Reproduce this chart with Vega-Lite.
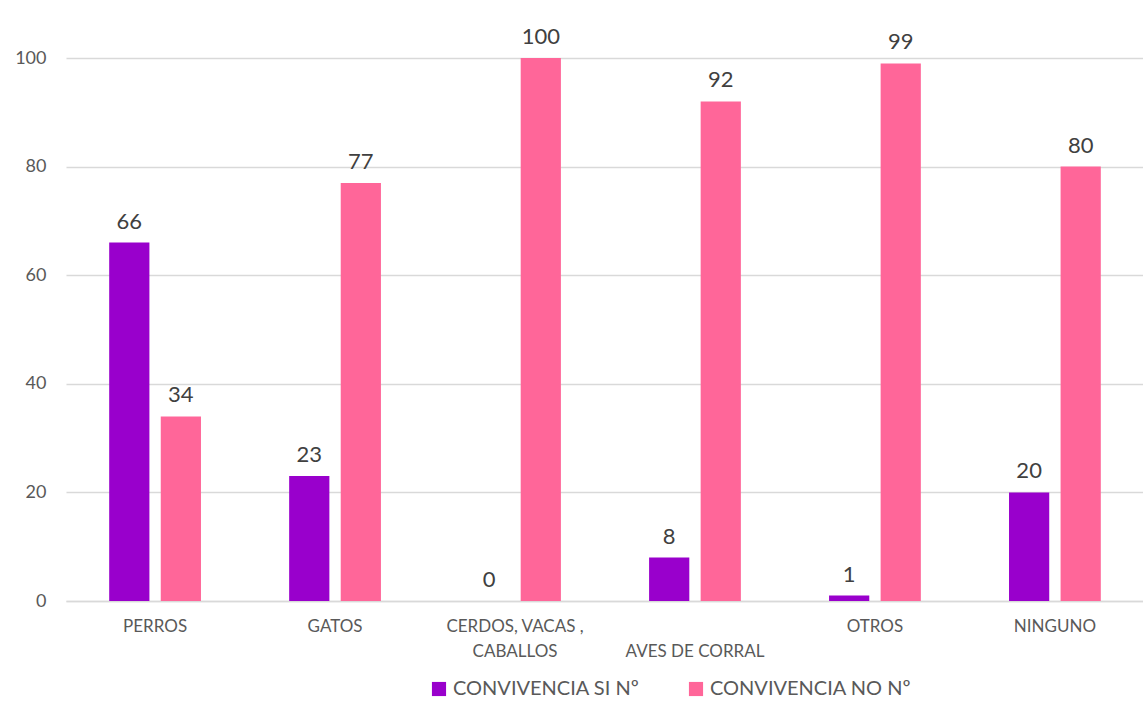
{
  "$schema": "https://vega.github.io/schema/vega-lite/v6.json",
  "width": 1078,
  "height": 543,
  "autosize": {"type": "none"},
  "padding": {"left": 66, "top": 58, "right": 0, "bottom": 107},
  "background": "white",
  "config": {
    "view": {"stroke": null},
    "font": "Lato",
    "axis": {"labelFont": "Lato", "titleFont": "Lato"}
  },
  "data": {
    "values": [
      {"cat": "PERROS", "serie": "CONVIVENCIA SI Nº", "valor": 66},
      {"cat": "PERROS", "serie": "CONVIVENCIA NO Nº", "valor": 34},
      {"cat": "GATOS", "serie": "CONVIVENCIA SI Nº", "valor": 23},
      {"cat": "GATOS", "serie": "CONVIVENCIA NO Nº", "valor": 77},
      {"cat": "CERDOS, VACAS ,|CABALLOS", "serie": "CONVIVENCIA SI Nº", "valor": 0},
      {"cat": "CERDOS, VACAS ,|CABALLOS", "serie": "CONVIVENCIA NO Nº", "valor": 100},
      {"cat": " |AVES DE CORRAL", "serie": "CONVIVENCIA SI Nº", "valor": 8},
      {"cat": " |AVES DE CORRAL", "serie": "CONVIVENCIA NO Nº", "valor": 92},
      {"cat": "OTROS", "serie": "CONVIVENCIA SI Nº", "valor": 1},
      {"cat": "OTROS", "serie": "CONVIVENCIA NO Nº", "valor": 99},
      {"cat": "NINGUNO", "serie": "CONVIVENCIA SI Nº", "valor": 20},
      {"cat": "NINGUNO", "serie": "CONVIVENCIA NO Nº", "valor": 80}
    ]
  },
  "encoding": {
    "x": {
      "field": "cat",
      "type": "nominal",
      "sort": null,
      "scale": {"paddingInner": 0.49, "paddingOuter": 0.24},
      "axis": {
        "title": null,
        "labelAngle": 0,
        "labelExpr": "split(datum.label, '|')",
        "labelFontSize": 17,
        "labelColor": "#595959",
        "labelPadding": 17,
        "labelLineHeight": 25,
        "ticks": false,
        "domainColor": "#d9d9d9",
        "domainWidth": 1.5
      }
    },
    "xOffset": {
      "field": "serie",
      "type": "nominal",
      "sort": ["CONVIVENCIA SI Nº", "CONVIVENCIA NO Nº"],
      "scale": {"paddingInner": 0.22, "paddingOuter": 0}
    },
    "y": {
      "field": "valor",
      "type": "quantitative",
      "scale": {"domain": [0, 100]},
      "axis": {
        "title": null,
        "values": [0, 20, 40, 60, 80, 100],
        "labelFontSize": 18,
        "labelColor": "#595959",
        "labelPadding": 20,
        "ticks": false,
        "domain": false,
        "gridColor": "#d9d9d9",
        "gridWidth": 1.5
      }
    }
  },
  "layer": [
    {
      "mark": {"type": "bar"},
      "encoding": {
        "color": {
          "field": "serie",
          "type": "nominal",
          "sort": ["CONVIVENCIA SI Nº", "CONVIVENCIA NO Nº"],
          "scale": {"range": ["#9900CC", "#FF6699"]},
          "legend": {
            "title": null,
            "orient": "none",
            "direction": "horizontal",
            "legendX": 363,
            "legendY": 621,
            "symbolType": "square",
            "symbolSize": 200,
            "symbolStrokeWidth": 0,
            "labelFontSize": 20,
            "labelColor": "#595959",
            "labelLimit": 400,
            "columnPadding": 46,
            "labelOffset": 4
          }
        }
      }
    },
    {
      "mark": {"type": "text", "dy": -9, "fontSize": 22, "color": "#404040", "baseline": "bottom"},
      "encoding": {
        "text": {"field": "valor", "type": "quantitative"}
      }
    }
  ]
}
